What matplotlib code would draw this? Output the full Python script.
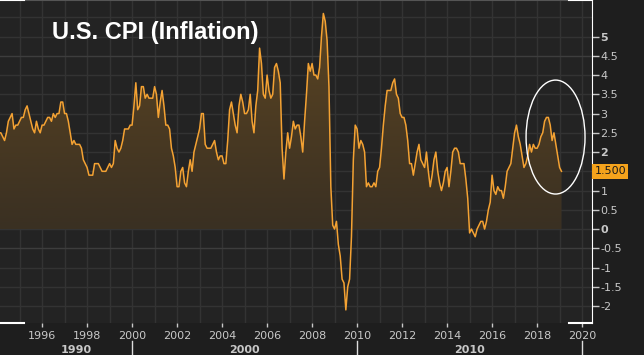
import numpy as np
import matplotlib.pyplot as plt
from matplotlib.patches import Ellipse
from matplotlib.colors import LinearSegmentedColormap
from matplotlib.transforms import blended_transform_factory

# US CPI year-over-year, monthly, Jan 1994 .. Feb 2019
cpi = [
    2.5, 2.5, 2.5, 2.4, 2.3, 2.5, 2.8, 2.9, 3.0, 2.6, 2.7, 2.7,   # 1994
    2.8, 2.9, 2.9, 3.1, 3.2, 3.0, 2.8, 2.6, 2.5, 2.8, 2.6, 2.5,   # 1995
    2.7, 2.7, 2.8, 2.9, 2.9, 2.8, 3.0, 2.9, 3.0, 3.0, 3.3, 3.3,   # 1996
    3.0, 3.0, 2.8, 2.5, 2.2, 2.3, 2.2, 2.2, 2.2, 2.1, 1.8, 1.7,   # 1997
    1.6, 1.4, 1.4, 1.4, 1.7, 1.7, 1.7, 1.6, 1.5, 1.5, 1.5, 1.6,   # 1998
    1.7, 1.6, 1.7, 2.3, 2.1, 2.0, 2.1, 2.3, 2.6, 2.6, 2.6, 2.7,   # 1999
    2.7, 3.2, 3.8, 3.1, 3.2, 3.7, 3.7, 3.4, 3.5, 3.4, 3.4, 3.4,   # 2000
    3.7, 3.5, 2.9, 3.3, 3.6, 3.2, 2.7, 2.7, 2.6, 2.1, 1.9, 1.6,   # 2001
    1.1, 1.1, 1.5, 1.6, 1.2, 1.1, 1.5, 1.8, 1.5, 2.0, 2.2, 2.4,   # 2002
    2.6, 3.0, 3.0, 2.2, 2.1, 2.1, 2.1, 2.2, 2.3, 2.0, 1.8, 1.9,   # 2003
    1.9, 1.7, 1.7, 2.3, 3.1, 3.3, 3.0, 2.7, 2.5, 3.2, 3.5, 3.3,   # 2004
    3.0, 3.0, 3.1, 3.5, 2.8, 2.5, 3.2, 3.6, 4.7, 4.3, 3.5, 3.4,   # 2005
    4.0, 3.6, 3.4, 3.5, 4.2, 4.3, 4.1, 3.8, 2.1, 1.3, 2.0, 2.5,   # 2006
    2.1, 2.4, 2.8, 2.6, 2.7, 2.7, 2.4, 2.0, 2.8, 3.5, 4.3, 4.1,   # 2007
    4.3, 4.0, 4.0, 3.9, 4.2, 5.0, 5.6, 5.4, 4.9, 3.7, 1.1, 0.1,   # 2008
    0.0, 0.2, -0.4, -0.7, -1.3, -1.4, -2.1, -1.5, -1.3, -0.2, 1.8, 2.7,  # 2009
    2.6, 2.1, 2.3, 2.2, 2.0, 1.1, 1.2, 1.1, 1.1, 1.2, 1.1, 1.5,   # 2010
    1.6, 2.1, 2.7, 3.2, 3.6, 3.6, 3.6, 3.8, 3.9, 3.5, 3.4, 3.0,   # 2011
    2.9, 2.9, 2.7, 2.3, 1.7, 1.7, 1.4, 1.7, 2.0, 2.2, 1.8, 1.7,   # 2012
    1.6, 2.0, 1.5, 1.1, 1.4, 1.8, 2.0, 1.5, 1.2, 1.0, 1.2, 1.5,   # 2013
    1.6, 1.1, 1.5, 2.0, 2.1, 2.1, 2.0, 1.7, 1.7, 1.7, 1.3, 0.8,   # 2014
    -0.1, 0.0, -0.1, -0.2, 0.0, 0.1, 0.2, 0.2, 0.0, 0.2, 0.5, 0.7,  # 2015
    1.4, 1.0, 0.9, 1.1, 1.0, 1.0, 0.8, 1.1, 1.5, 1.6, 1.7, 2.1,   # 2016
    2.5, 2.7, 2.4, 2.2, 1.9, 1.6, 1.7, 1.9, 2.2, 2.0, 2.2, 2.1,   # 2017
    2.1, 2.2, 2.4, 2.5, 2.8, 2.9, 2.9, 2.7, 2.3, 2.5, 2.2, 1.9,   # 2018
    1.6, 1.5,                                                     # 2019
]
start_year = 1994
year_ticks = list(range(1996, 2021, 2))
y_ticks = [5, 4.5, 4, 3.5, 3, 2.5, 2, 1, 0.5, 0, -0.5, -1, -1.5, -2]
bold_ticks = [5, 2, 0]
decades = ['1990', '2000', '2010']
decade_pos = [1997.5, 2005.0, 2015.0]
decade_marks = [2000, 2010, 2020]
last_value = 1.5

t = start_year + np.arange(len(cpi)) / 12
y = np.array(cpi)

bg = '#232323'
orange = '#f4a233'

fig = plt.figure(figsize=(6.44, 3.63), dpi=100, facecolor='#1e1e1e')
ax = fig.add_axes([0, 40/363, 592/644, 323/363])
ax.set_facecolor(bg)
x0, x1 = 1994.13, 2020.44
y0, y1 = -2.44, 5.95

# grid
for yr in range(1995, 2021):
    ax.axvline(yr, color='#333333', lw=1, zorder=0)
for v in np.arange(-2.5, 6.0, 0.5):
    c = '#3d3d3d' if v in (4.5, -0.5) else '#333333'
    ax.axhline(v, color=c, lw=1, zorder=0)

# gradient fill under the positive part of the line
yp = np.clip(y, 0, None)
poly = ax.fill_between(t, yp, 0, color='none', lw=0)
grad = np.linspace(0, 1, 256).reshape(-1, 1)
cmap = LinearSegmentedColormap.from_list('f', ['#3a3022', '#5c4522'])
img = ax.imshow(grad, extent=[x0, x1, 0, y.max()], origin='lower', aspect='auto',
                cmap=cmap, zorder=1)
img.set_clip_path(poly.get_paths()[0], transform=ax.transData)

ax.plot(t, y, color=orange, lw=1.1, zorder=3)
ax.set_xlim(x0, x1)
ax.set_ylim(y0, y1)

# circle highlight
ax.add_patch(Ellipse((2018.82, 2.39), 2.62, 2.96, fill=False, ec='white', lw=1, zorder=4))

# axes
for s in ax.spines.values():
    s.set_visible(False)
ax.spines['right'].set_visible(True)
ax.spines['right'].set_color('white')
ax.spines['top'].set_visible(True)
ax.spines['top'].set_color('#555555')
for xa, xb in [(0, 24/592), (569/592, 1)]:
    ax.plot([xa, xb], [0, 0], transform=ax.transAxes, color='white', lw=1.5, clip_on=False, zorder=5)
    ax.plot([xa, xb], [1, 1], transform=ax.transAxes, color='white', lw=1.5, clip_on=False, zorder=5)

ax.yaxis.tick_right()
ax.set_yticks(y_ticks)
ax.set_yticklabels([f'{v:g}' for v in y_ticks])
for lab, v in zip(ax.get_yticklabels(), y_ticks):
    if v in bold_ticks:
        lab.set_fontweight('bold')
ax.tick_params(axis='y', colors='#c8c8c8', length=5, width=1, labelsize=8, pad=1)
ax.set_xticks(year_ticks)
ax.tick_params(axis='x', colors='#c8c8c8', length=3, width=1, labelsize=8, pad=3)
ax.grid(False)

# last value tag
tr = blended_transform_factory(ax.transAxes, ax.transData)
ax.text(1.004, last_value, '1.500', transform=tr, va='center', ha='left',
        fontsize=8, color='#1a1a1a',
        bbox=dict(boxstyle='square,pad=0.2', fc='#f5a31c', ec='none'))

# decade row
trf = blended_transform_factory(ax.transData, fig.transFigure)
for lab, xp in zip(decades, decade_pos):
    ax.text(xp, 13/363, lab, transform=trf, ha='center', va='center',
            fontsize=8, fontweight='bold', color='#c8c8c8')
for xm in decade_marks:
    ax.plot([xm, xm], [8/363, 22/363], transform=trf, color='#dddddd', lw=1, clip_on=False)

# white strip at bottom
fig.patches.append(plt.Rectangle((0, 0), 1, 8/363, transform=fig.transFigure,
                                 fc='white', ec='none'))

fig.text(52/644, 1 - 32/363, 'U.S. CPI (Inflation)', fontsize=17, fontweight='bold',
         color='white', family='Liberation Sans', va='center', ha='left')

fig.savefig('out.png', dpi=100, facecolor=fig.get_facecolor())
